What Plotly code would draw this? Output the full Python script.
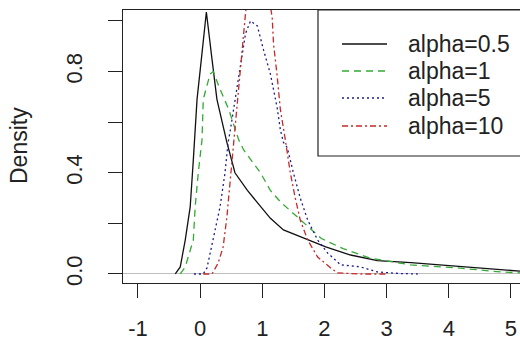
import plotly.graph_objects as go

# ---- data ----
labels = ["alpha=0.5", "alpha=1", "alpha=5", "alpha=10"]

x_a05 = [-0.40, -0.32, -0.24, -0.16, -0.11, -0.05, 0.02, 0.10, 0.19, 0.27, 0.43, 0.56, 0.76,
         0.97, 1.13, 1.34, 1.66, 2.02, 2.42, 2.85, 3.39, 3.87, 4.40, 5.00, 5.20]
y_a05 = [0.000, 0.028, 0.134, 0.265, 0.45, 0.69, 0.85, 1.035, 0.85, 0.69, 0.52, 0.40, 0.33,
         0.265, 0.22, 0.174, 0.142, 0.107, 0.075, 0.053, 0.045, 0.036, 0.024, 0.012, 0.010]

x_a1 = [-0.32, -0.24, -0.11, -0.08, -0.03, 0.03, 0.05, 0.11, 0.16, 0.21, 0.32, 0.46, 0.62, 0.70,
        0.97, 1.13, 1.29, 1.56, 1.95, 2.30, 2.73, 3.38, 4.14, 4.83, 5.20]
y_a1 = [0.000, 0.028, 0.134, 0.265, 0.40, 0.53, 0.69, 0.75, 0.79, 0.80, 0.73, 0.65, 0.53, 0.49,
        0.40, 0.33, 0.285, 0.226, 0.140, 0.100, 0.063, 0.036, 0.024, 0.008, 0.004]

x_a5 = [-0.10, 0.05, 0.11, 0.21, 0.32, 0.40, 0.45, 0.48, 0.56, 0.65, 0.73, 0.81, 0.92, 1.02,
        1.13, 1.24, 1.29, 1.34, 1.40, 1.50, 1.61, 1.73, 1.89, 2.05, 2.26, 2.58, 2.85, 3.20, 3.50]
y_a5 = [0.000, 0.000, 0.024, 0.134, 0.265, 0.40, 0.52, 0.56, 0.69, 0.82, 0.95, 1.00, 0.98, 0.885,
        0.79, 0.655, 0.57, 0.52, 0.50, 0.40, 0.30, 0.213, 0.134, 0.083, 0.036, 0.028, 0.008, 0.002, 0.000]

x_a10 = [0.05, 0.19, 0.29, 0.37, 0.43, 0.48, 0.52, 0.56, 0.62, 0.68, 0.73, 0.85, 0.95, 1.05,
         1.13, 1.16, 1.18, 1.24, 1.29, 1.37, 1.45, 1.53, 1.61, 1.73, 1.89, 2.10, 2.21, 2.60, 3.00]
y_a10 = [0.000, 0.000, 0.043, 0.107, 0.225, 0.36, 0.47, 0.57, 0.75, 0.91, 1.03, 1.30, 1.38, 1.30,
         1.06, 1.01, 0.91, 0.78, 0.65, 0.53, 0.40, 0.30, 0.213, 0.134, 0.067, 0.024, 0.004, 0.000, 0.000]

x_ticks = [-1, 0, 1, 2, 3, 4, 5]
y_ticks = [0.0, 0.2, 0.4, 0.6, 0.8, 1.0]
y_ticktext = ["0.0", "", "0.4", "", "0.8", ""]

# ---- styles ----
colors = ["#111111", "#33aa33", "#1c1c8f", "#c42a2a"]
dashes = ["solid", "7px,5px", "2px,3px", "6px,3px,2px,3px"]
series = [(x_a05, y_a05), (x_a1, y_a1), (x_a5, y_a5), (x_a10, y_a10)]

FONT = "Liberation Sans, Arial, sans-serif"
W, H = 520, 340
L, R, T, B = 123, 0, 10, 57
PW, PH = W - L - R, H - T - B

fig = go.Figure()
for (xs, ys), c, d, name in zip(series, colors, dashes, labels):
    fig.add_trace(go.Scatter(x=xs, y=ys, mode="lines", name=name,
                             line=dict(color=c, width=1.3, dash=d, shape="linear"),
                             showlegend=False, hoverinfo="skip", cliponaxis=True))

def px2paper(px, py):
    return (px - L) / PW, (H - B - py) / PH

# legend box
x0, y0 = px2paper(318, 10)
x1, y1 = px2paper(540, 156)
fig.add_shape(type="rect", xref="paper", yref="paper", x0=x0, x1=x1, y0=y1, y1=y0,
              line=dict(color="#222222", width=1.2), fillcolor="white", layer="above")
rows = [44, 71, 98, 126]
for py, c, d, name in zip(rows, colors, dashes, labels):
    lx0, ly = px2paper(342, py)
    lx1, _ = px2paper(387, py)
    fig.add_shape(type="line", xref="paper", yref="paper", x0=lx0, x1=lx1, y0=ly, y1=ly,
                  line=dict(color=c, width=1.3, dash=d), layer="above")
    tx, _ = px2paper(406, py)
    fig.add_annotation(xref="paper", yref="paper", x=tx, y=ly, text=name, showarrow=False,
                       xanchor="left", yanchor="middle", font=dict(family=FONT, size=23, color="#222222"))

# y axis title
ax, ay = px2paper(19, 146)
fig.add_annotation(xref="paper", yref="paper", x=ax, y=ay, text="Density", showarrow=False,
                   textangle=-90, xanchor="center", yanchor="middle",
                   font=dict(family=FONT, size=23, color="#222222"))

fig.update_layout(
    width=W, height=H, margin=dict(l=L, r=R, t=T, b=B, pad=0, autoexpand=False),
    paper_bgcolor="white", plot_bgcolor="white", showlegend=False,
    xaxis=dict(range=[-1.241, 5.145], tickvals=x_ticks, ticktext=[str(v) for v in x_ticks],
               automargin=False,
               showgrid=False, zeroline=False, showline=True, mirror=True,
               linecolor="#222222", linewidth=1.2, ticks="outside", ticklen=14,
               tickcolor="#222222", tickwidth=1.2, ticklabelstandoff=11,
               tickfont=dict(family=FONT, size=22, color="#222222")),
    yaxis=dict(range=[-0.0356, 1.043], tickvals=y_ticks, ticktext=y_ticktext,
               automargin=False,
               showgrid=False, zeroline=True, zerolinecolor="#bebebe", zerolinewidth=1.2,
               showline=True, linecolor="#222222", linewidth=1.2, ticks="outside", ticklen=14,
               tickcolor="#222222", tickwidth=1.2, tickangle=-90, ticklabelstandoff=17,
               tickfont=dict(family=FONT, size=22, color="#222222")),
)

fig.write_html("out.html", config={"displayModeBar": False},
               post_script="document.body.style.margin='0';document.body.style.overflow='hidden';")
